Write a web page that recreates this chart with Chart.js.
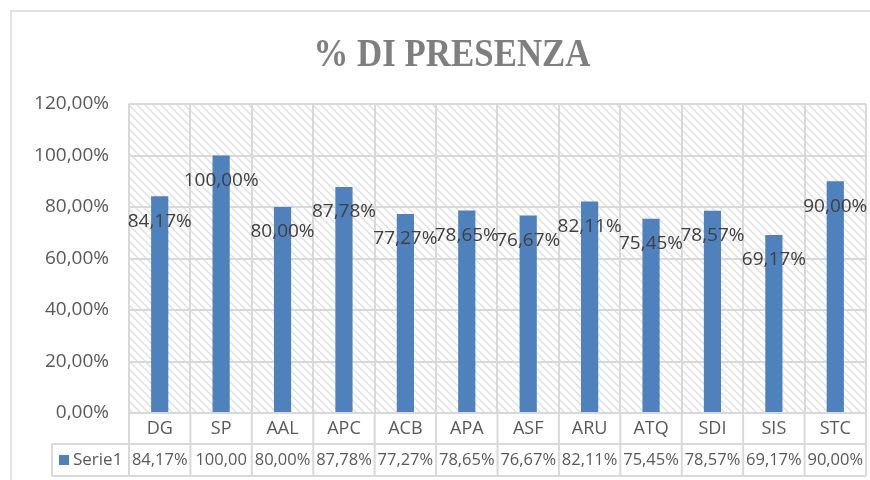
<!DOCTYPE html>
<html>
<head>
<meta charset="utf-8">
<script src="https://cdn.jsdelivr.net/npm/chart.js@4.4.0/dist/chart.umd.min.js"></script>
<style>
  html, body { margin: 0; padding: 0; background: #fff; }
  #wrap { width: 870px; height: 480px; position: relative; }
</style>
</head>
<body>
<div id="wrap"><canvas id="chart" width="870" height="480"></canvas></div>
<script>
// data
const categories = ["DG", "SP", "AAL", "APC", "ACB", "APA", "ASF", "ARU", "ATQ", "SDI", "SIS", "STC"];
const seriesName = "Serie1";
const presenza = [84.17, 100, 80, 87.78, 77.27, 78.65, 76.67, 82.11, 75.45, 78.57, 69.17, 90];
const yTicks = [0, 20, 40, 60, 80, 100, 120];

const TITLE = "% DI PRESENZA";
const BAR = "#4f81bd";
const GRID = "#d9d9d9";
const SANS = "'Open Sans', 'Noto Sans', sans-serif";

const fmt = (v) => v.toFixed(2).replace(".", ",") + "%";

// Excel-like "wide downward diagonal" fill
function hatch() {
  const c = document.createElement("canvas");
  c.width = 8;
  c.height = 8;
  const g = c.getContext("2d");
  g.fillStyle = "#fff";
  g.fillRect(0, 0, 8, 8);
  g.strokeStyle = "#e0e0e0";
  g.lineWidth = 1.5;
  g.beginPath();
  g.moveTo(0, 0); g.lineTo(8, 8);
  g.moveTo(-4, 4); g.lineTo(4, 12);
  g.moveTo(4, -4); g.lineTo(12, 4);
  g.stroke();
  return g.createPattern(c, "repeat");
}

const backdrop = {
  id: "backdrop",
  beforeDraw(chart) {
    const { ctx, chartArea: a } = chart;
    ctx.save();
    ctx.fillStyle = "#fff";
    ctx.fillRect(0, 0, chart.width, chart.height);
    ctx.strokeStyle = GRID;
    ctx.lineWidth = 1.5;
    ctx.strokeRect(11, 11, chart.width + 20, chart.height + 20);
    ctx.fillStyle = hatch();
    ctx.fillRect(a.left, a.top, a.right - a.left, a.bottom - a.top);

    // title, Cambria-ish: bold serif squeezed a little
    ctx.font = "bold 39px 'Liberation Serif', 'DejaVu Serif', serif";
    ctx.fillStyle = "#7f7f7f";
    ctx.textBaseline = "alphabetic";
    const w = ctx.measureText(TITLE).width;
    const sx = 277 / w;
    ctx.translate(452, 66);
    ctx.scale(sx, 1);
    ctx.textAlign = "center";
    ctx.fillText(TITLE, 0, 0);
    ctx.restore();
  },
};

const valueLabels = {
  id: "valueLabels",
  afterDatasetsDraw(chart) {
    const { ctx } = chart;
    const meta = chart.getDatasetMeta(0);
    ctx.save();
    ctx.font = "19px " + SANS;
    ctx.fillStyle = "#404040";
    ctx.textAlign = "center";
    ctx.textBaseline = "middle";
    meta.data.forEach((bar, i) => {
      ctx.fillText(fmt(presenza[i]), bar.x, bar.y + 25);
    });
    ctx.restore();
  },
};

// category row + data table row under the plot
const dataTable = {
  id: "dataTable",
  afterDraw(chart) {
    const { ctx, chartArea: a } = chart;
    const x = chart.scales.x;
    const step = (a.right - a.left) / categories.length;
    const r1 = a.bottom, r2 = 444, r3 = 476, left = 52;
    ctx.save();
    ctx.strokeStyle = GRID;
    ctx.lineWidth = 2;
    ctx.beginPath();
    ctx.moveTo(left, r2); ctx.lineTo(a.right, r2);
    ctx.moveTo(left, r3); ctx.lineTo(a.right, r3);
    ctx.moveTo(left, r2); ctx.lineTo(left, r3);
    for (let i = 0; i <= categories.length; i++) {
      const gx = a.left + i * step;
      ctx.moveTo(gx, r1); ctx.lineTo(gx, r3);
    }
    ctx.stroke();

    ctx.fillStyle = "#595959";
    ctx.textBaseline = "middle";
    ctx.textAlign = "center";
    categories.forEach((c, i) => {
      const cx = x.getPixelForValue(i);
      ctx.font = "18px " + SANS;
      ctx.fillText(c, cx, (r1 + r2) / 2);

      // values that don't fit lose their trailing characters, like Excel
      ctx.font = "16.5px " + SANS;
      let t = fmt(presenza[i]);
      while (t.length > 1 && ctx.measureText(t).width > step - 1) t = t.slice(0, -1);
      ctx.fillText(t, cx, (r2 + r3) / 2);
    });

    ctx.fillStyle = BAR;
    ctx.fillRect(59, 455, 10, 10);
    ctx.fillStyle = "#595959";
    ctx.font = "17px " + SANS;
    ctx.textAlign = "left";
    ctx.fillText(seriesName, 73, (r2 + r3) / 2);
    ctx.restore();
  },
};

new Chart(document.getElementById("chart"), {
  type: "bar",
  data: {
    labels: categories,
    datasets: [
      {
        label: seriesName,
        data: presenza,
        backgroundColor: BAR,
        categoryPercentage: 1,
        barPercentage: 0.28,
      },
    ],
  },
  options: {
    responsive: false,
    animation: false,
    layout: { padding: { top: 104, bottom: 67, right: 4, left: 0 } },
    plugins: {
      legend: { display: false },
      title: { display: false },
      tooltip: { enabled: false },
    },
    scales: {
      x: {
        offset: true,
        grid: { offset: true, color: GRID, lineWidth: 2, drawTicks: false },
        border: { display: false },
        ticks: { display: false },
        afterFit: (s) => { s.height = 0; },
      },
      y: {
        min: 0,
        max: 120,
        afterBuildTicks: (s) => { s.ticks = yTicks.map((v) => ({ value: v })); },
        afterFit: (s) => { s.width = 129; },
        grid: { color: GRID, lineWidth: 2, drawTicks: false },
        border: { display: false },
        ticks: {
          padding: 20,
          color: "#595959",
          font: { family: SANS, size: 19 },
          callback: (v) => fmt(v),
        },
      },
    },
  },
  plugins: [backdrop, valueLabels, dataTable],
});
</script>
</body>
</html>
